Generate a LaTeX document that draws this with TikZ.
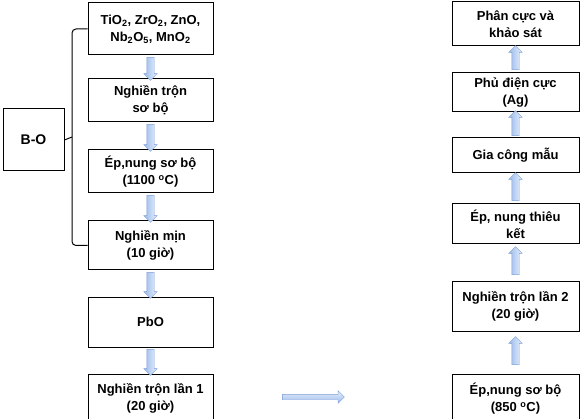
\documentclass[tikz,border=0pt]{standalone}
\usepackage{fontspec}
\setmainfont{Liberation Sans}
\usetikzlibrary{positioning, shapes.arrows}
\definecolor{arrowdark}{HTML}{9DBBEA}
\definecolor{arrowlight}{HTML}{E6EFFC}
\definecolor{arrowline}{HTML}{7C9FD6}
\tikzstyle{block} = [rectangle, minimum width=125pt, draw=black, line width=1pt, align=center, font=\bfseries\fontsize{13}{17}\selectfont, inner sep=1pt]
\tikzstyle{bracket} = [line width=1pt, rounded corners=4pt]
\tikzset{
  fat/.style={single arrow, draw=arrowline, line width=0.4pt, inner xsep=0pt, inner ysep=3.5pt, single arrow head extend=3pt, minimum width=13pt, minimum height=#1},
  fatdown/.style={fat=#1, rotate=-90, left color=arrowdark, right color=arrowlight},
  fatup/.style={fat=#1, rotate=90, left color=arrowdark, right color=arrowlight},
}
\begin{document}
\begin{tikzpicture}[x=1pt, y=-1pt]
  \useasboundingbox (0,0) rectangle (580,419);
  % left column
  \node (oxides) [block, minimum height=52pt] at (150.5,29) {TiO\textsubscript{2}, ZrO\textsubscript{2}, ZnO,\\Nb\textsubscript{2}O\textsubscript{5}, MnO\textsubscript{2}};
  \node (premix) [block, minimum height=43pt, below=23pt of oxides] {Nghiền trộn\\sơ bộ};
  \node (precalc) [block, minimum height=43pt, below=27pt of premix] {Ép,nung sơ bộ\\(1100 \textsuperscript{o}C)};
  \node (finemill) [block, minimum height=49pt, below=27pt of precalc] {Nghiền mịn\\(10 giờ)};
  \node (pbo) [block, minimum height=50pt, below=26pt of finemill] {PbO};
  \node (mixone) [block, minimum height=49pt, below=26pt of pbo] {Nghiền trộn lần 1\\(20 giờ)};
  \node (bo) [block, minimum width=61pt, minimum height=62pt, font=\bfseries\fontsize{14}{17}\selectfont] at (33.5,140) {B-O};

  % right column
  \node (polar) [block, minimum width=127pt, minimum height=44pt] at (515.5,24) {Phân cực và\\khảo sát};
  \node (electrode) [block, minimum width=127pt, minimum height=39pt, below=26pt of polar] {Phủ điện cực\\(Ag)};
  \node (machining) [block, minimum width=127pt, minimum height=35pt, below=25pt of electrode] {Gia công mẫu};
  \node (sinter) [block, minimum width=127pt, minimum height=40pt, below=30pt of machining] {Ép, nung thiêu\\kết};
  \node (mixtwo) [block, minimum width=127pt, minimum height=50pt, below=36pt of sinter] {Nghiền trộn lần 2\\(20 giờ)};
  \node (calc) [block, minimum width=127pt, minimum height=49pt, below=42pt of mixtwo] {Ép,nung sơ bộ\\(850 \textsuperscript{o}C)};

  % bracket to B-O
  \draw [bracket] (oxides.west) -| (72,137) |- (finemill.west);
  \draw [line width=1pt] (72,137) -- (bo.east);

  % block arrows, left column
  \path (oxides.south) -- (premix.north) node[midway, fatdown=23pt] {};
  \path (premix.south) -- (precalc.north) node[midway, fatdown=27pt] {};
  \path (precalc.south) -- (finemill.north) node[midway, fatdown=27pt] {};
  \path (finemill.south) -- (pbo.north) node[midway, fatdown=26pt] {};
  \path (pbo.south) -- (mixone.north) node[midway, fatdown=26pt] {};

  % block arrows, right column
  \path (calc.north) -- (mixtwo.south) node[midway, fatup=28pt] {};
  \path (mixtwo.north) -- (sinter.south) node[midway, fatup=28pt] {};
  \path (sinter.north) -- (machining.south) node[midway, fatup=28pt] {};
  \path (machining.north) -- (electrode.south) node[midway, fatup=25pt] {};
  \path (electrode.north) -- (polar.south) node[midway, fatup=24pt] {};

  % from left to right
  \coordinate (jumpa) at (281,397);
  \coordinate (jumpb) at (343,397);
  \path (jumpa) -- (jumpb) node[midway, fat=62pt, inner ysep=2.5pt, minimum width=12pt, single arrow head extend=3.5pt, top color=arrowlight, bottom color=arrowdark] {};
\end{tikzpicture}
\end{document}
